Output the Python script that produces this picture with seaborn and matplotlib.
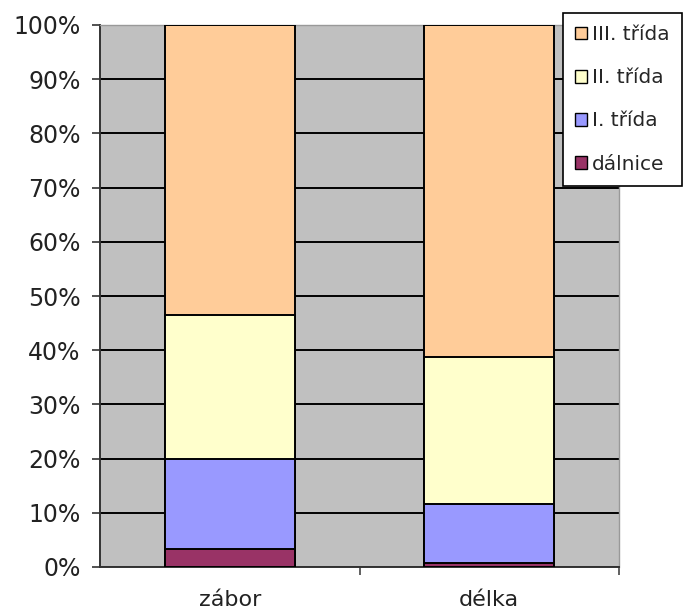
import matplotlib
matplotlib.use("Agg")
import matplotlib.pyplot as plt
import seaborn as sns
import pandas as pd
import numpy as np
from matplotlib.patches import Patch
from matplotlib.ticker import FixedLocator, PercentFormatter

categories = ["zábor", "délka"]
series = ["dálnice", "I. třída", "II. třída", "III. třída"]
dalnice = [3.4, 0.7]
trida1 = [16.5, 11.0]
trida2 = [26.6, 27.0]
trida3 = [53.5, 61.3]
colors = ["#993366", "#9999FF", "#FFFFCC", "#FFCC99"]

sns.set_theme(style="white")
plt.rcParams["font.family"] = ["DejaVu Sans"]

values = np.array([dalnice, trida1, trida2, trida3])
cum = np.cumsum(values, axis=0)

fig = plt.figure(figsize=(6.87, 6.15), dpi=100)
ax = fig.add_axes([100/687, 48/615, 519/687, 542/615])
ax.set_facecolor("#C0C0C0")

for i in range(len(series) - 1, -1, -1):
    df = pd.DataFrame({"cat": categories, "val": cum[i]})
    sns.barplot(data=df, x="cat", y="val", color=colors[i], width=0.5,
                edgecolor="black", linewidth=1.4, saturation=1, ax=ax, zorder=3)

ax.set_xlim(-0.5, 1.5)
ax.set_ylim(0, 100)
ax.yaxis.set_major_locator(FixedLocator(np.arange(0, 101, 10)))
ax.yaxis.set_major_formatter(PercentFormatter(decimals=0))
ax.grid(axis="y", color="black", linewidth=1.4, zorder=0)
ax.set_axisbelow(True)
ax.set_xlabel("")
ax.set_ylabel("")

ax.tick_params(axis="y", which="major", left=True, length=6, width=1.2,
               color="#333333", labelsize=17, labelcolor="#222222", pad=8)
ax.tick_params(axis="x", which="major", bottom=False, labelsize=16,
               labelcolor="#222222", pad=22)
ax.xaxis.set_minor_locator(FixedLocator([0.5, 1.5]))
ax.tick_params(axis="x", which="minor", bottom=True, length=6, width=1.2, color="#444444")
for lbl in ax.get_xticklabels():
    lbl.set_verticalalignment("baseline")

for s in ["left", "bottom"]:
    ax.spines[s].set_color("#333333")
    ax.spines[s].set_linewidth(1.4)
for s in ["top", "right"]:
    ax.spines[s].set_color("#999999")
    ax.spines[s].set_linewidth(1.0)

handles = [Patch(facecolor=colors[i], edgecolor="black", linewidth=1.0, label=series[i])
           for i in range(len(series) - 1, -1, -1)]
leg = fig.legend(handles=handles, loc="upper left", bbox_to_anchor=(563/687, 1 - 13/615),
                 frameon=True, fontsize=14.5, handlelength=0.6, handleheight=0.6,
                 handletextpad=0.25, labelspacing=1.2, borderpad=0.6, borderaxespad=0,
                 fancybox=False, edgecolor="black", framealpha=1)
leg.get_frame().set_linewidth(1.2)
leg.get_frame().set_facecolor("white")

fig.savefig("out.png", dpi=100)
